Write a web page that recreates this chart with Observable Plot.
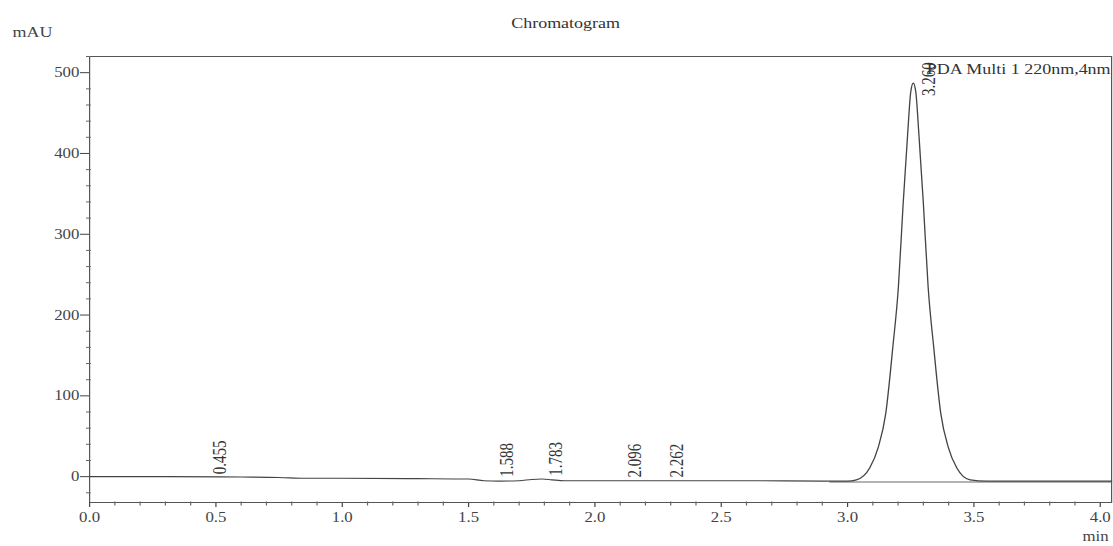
<!DOCTYPE html>
<html>
<head>
<meta charset="utf-8">
<script src="https://cdn.jsdelivr.net/npm/d3@7"></script>
<script src="https://cdn.jsdelivr.net/npm/@observablehq/plot@0.6"></script>
<style>
  html, body { margin: 0; padding: 0; background: #fff; }
  #chart { width: 1113px; height: 546px; overflow: hidden; }
</style>
</head>
<body>
<div id="chart"></div>
<script>
// ---- data ----
const chartTitle = "Chromatogram";
const yUnit = "mAU";
const xUnit = "min";
const channelName = "PDA Multi 1 220nm,4nm";

// retention time (min)
const times = [0, 0.3, 0.6, 0.75, 0.85, 1.0, 1.3, 1.5, 1.56, 1.62, 1.70, 1.75, 1.79, 1.83, 1.88,
  2.0, 2.3, 2.6, 2.9, 3.0, 3.035, 3.088, 3.121, 3.151, 3.179, 3.201, 3.220, 3.238, 3.25, 3.26,
  3.27, 3.282, 3.300, 3.319, 3.341, 3.369, 3.399, 3.432, 3.485, 3.55, 3.7, 3.9, 4.045];
// absorbance (mAU)
const absorbance = [0, 0, -0.5, -1, -2, -2, -2.5, -3, -5, -5.5, -5, -3.5, -3, -4, -5,
  -5, -5, -5, -5.5, -5.5, -4, 11, 36, 78, 160, 234, 338, 425, 476, 487,
  476, 425, 338, 234, 160, 78, 36, 11, -4, -5.5, -5.5, -5.5, -5.5];

// integration baseline under the main peak
const baselineTimes = [2.93, 4.045];
const baselineValues = [-6.5, -6.5];

// peak labels
const peakTimes = [0.455, 1.588, 1.783, 2.096, 2.262, 3.260];
const peakLabelY = [3, 0, 1, -1, -1, 471];

// axes ticks
const xTicks = [0, 0.5, 1.0, 1.5, 2.0, 2.5, 3.0, 3.5, 4.0];
const xMinor = [0.1, 0.2, 0.3, 0.4, 0.6, 0.7, 0.8, 0.9, 1.1, 1.2, 1.3, 1.4, 1.6, 1.7, 1.8, 1.9,
  2.1, 2.2, 2.3, 2.4, 2.6, 2.7, 2.8, 2.9, 3.1, 3.2, 3.3, 3.4, 3.6, 3.7, 3.8, 3.9];
const yTicks = [0, 100, 200, 300, 400, 500];
const yMinor = [-20, 20, 40, 60, 80, 120, 140, 160, 180, 220, 240, 260, 280, 320, 340, 360, 380,
  420, 440, 460, 480, 520];

// ---- drawing ----
const sx = 1.2;               // horizontal stretch of the scanned original
const W = 1113 / sx;
const ink = "#444";
const font = "'Liberation Serif', 'Times New Roman', serif";

const trace = times.map((t, i) => ({t, v: absorbance[i]}));
const base = baselineTimes.map((t, i) => ({t, v: baselineValues[i]}));
const peaks = peakTimes.map((t, i) => ({t, y: peakLabelY[i], label: t.toFixed(3)}));

// small minor-tick glyphs
const leftTick = {draw(ctx) { ctx.moveTo(-3, 0); ctx.lineTo(1, 0); }};
const downTick = {draw(ctx) { ctx.moveTo(0, -1); ctx.lineTo(0, 3); }};

const svg = Plot.plot({
  width: W,
  height: 546,
  marginLeft: 89 / sx,
  marginRight: 2 / sx,
  marginTop: 56,
  marginBottom: 44,
  x: {domain: [0, 4.045], ticks: xTicks, tickSize: 5, tickPadding: 5, tickFormat: d3.format(".1f"), label: null},
  y: {domain: [-32, 520], ticks: yTicks, tickSize: 9 / sx, tickPadding: 1, label: null},
  style: {fontFamily: font, fontSize: "14px", color: ink, background: "white"},
  marks: [
    Plot.frame({stroke: "#555", strokeWidth: 1}),
    Plot.dot(yMinor, {y: d => d, frameAnchor: "left", symbol: leftTick, stroke: "#666", strokeWidth: 1, r: 3}),
    Plot.dot(xMinor, {x: d => d, frameAnchor: "bottom", symbol: downTick, stroke: "#666", strokeWidth: 1, r: 3}),
    Plot.line(base, {x: "t", y: "v", stroke: "#666", strokeWidth: 1}),
    Plot.line(trace, {x: "t", y: "v", stroke: "#444", strokeWidth: 1.1, curve: "monotone-x"}),
    Plot.text(peaks, {x: "t", y: "y", text: "label", rotate: -90, textAnchor: "start",
      dx: 16 / sx, fontSize: 15, fill: "#333"}),
    Plot.text([chartTitle], {frameAnchor: "top", dx: -35 / sx, dy: -39, fontSize: 15, fill: "#333"}),
    Plot.text([yUnit], {frameAnchor: "top-left", textAnchor: "start", dx: -77 / sx, dy: -30, fontSize: 15, fill: "#444"}),
    Plot.text([xUnit], {frameAnchor: "bottom-right", textAnchor: "end", dx: -3 / sx, dy: 38, fontSize: 14, fill: "#444"}),
    Plot.text([channelName], {frameAnchor: "top-right", textAnchor: "end", lineAnchor: "top",
      dx: -1 / sx, dy: 7, fontSize: 15, fill: "#333"})
  ]
});

svg.setAttribute("width", 1113);
svg.setAttribute("height", 546);
svg.setAttribute("preserveAspectRatio", "none");
svg.style.width = "1113px";
svg.style.height = "546px";
svg.style.maxWidth = "none";
document.getElementById("chart").append(svg);
</script>
</body>
</html>
